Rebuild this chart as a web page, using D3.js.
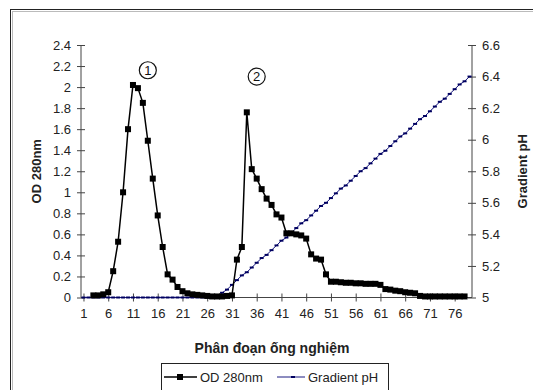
<!DOCTYPE html>
<html>
<head>
<meta charset="utf-8">
<script src="https://cdn.jsdelivr.net/npm/d3@7"></script>
<style>
  body { margin: 0; background: #fff; }
  svg { display: block; font-family: 'Liberation Sans', Arial, sans-serif; }
</style>
</head>
<body>
<figure id="chart" style="margin:0"></figure>
<script>
// fraction numbers 1..79
const fractions = d3.range(1, 80);
const xTickLabels = [1, 6, 11, 16, 21, 26, 31, 36, 41, 46, 51, 56, 61, 66, 71, 76];
const odTicks = [0, 0.2, 0.4, 0.6, 0.8, 1, 1.2, 1.4, 1.6, 1.8, 2, 2.2, 2.4];
const phTicks = [5, 5.2, 5.4, 5.6, 5.8, 6, 6.2, 6.4, 6.6];

// OD 280nm per fraction
const od280 = [
  null, null, 0.02, 0.02, 0.03, 0.05, 0.25, 0.53, 1.00, 1.60,
  2.02, 1.99, 1.85, 1.49, 1.13, 0.78, 0.48, 0.22, 0.17, 0.10,
  0.06, 0.04, 0.03, 0.025, 0.02, 0.015, 0.01, 0.01, 0.01, 0.015,
  0.02, 0.36, 0.48, 1.76, 1.22, 1.13, 1.03, 0.94, 0.88, 0.79,
  0.76, 0.61, 0.61, 0.60, 0.59, 0.56, 0.41, 0.37, 0.36, 0.22,
  0.15, 0.15, 0.145, 0.14, 0.14, 0.135, 0.135, 0.13, 0.13, 0.13,
  0.12, 0.08, 0.075, 0.065, 0.06, 0.05, 0.045, 0.04, 0.015, 0.01,
  0.01, 0.01, 0.01, 0.01, 0.01, 0.01, 0.01, 0.01, null
];

// pH gradient per fraction
const gradientPH = [
  5.00, 5.00, 5.00, 5.00, 5.00, 5.00, 5.00, 5.00, 5.00, 5.00,
  5.00, 5.00, 5.00, 5.00, 5.00, 5.00, 5.00, 5.00, 5.00, 5.00,
  5.00, 5.00, 5.00, 5.00, 5.00, 5.00, 5.00, 5.00, 5.03, 5.05,
  5.08, 5.11, 5.14, 5.16, 5.19, 5.22, 5.25, 5.27, 5.30, 5.33,
  5.36, 5.38, 5.41, 5.44, 5.47, 5.49, 5.52, 5.55, 5.58, 5.60,
  5.63, 5.66, 5.69, 5.71, 5.74, 5.77, 5.80, 5.82, 5.85, 5.88,
  5.91, 5.93, 5.96, 5.99, 6.02, 6.04, 6.07, 6.10, 6.13, 6.15,
  6.18, 6.21, 6.24, 6.26, 6.29, 6.32, 6.35, 6.37, 6.40
];

// circled peak numbers (fraction, OD level)
const peaks = [{ label: '1', at: 14, y: 2.16 }, { label: '2', at: 36, y: 2.1 }];

const W = 533, H = 390;
const plotLeft = 81, plotRight = 472, plotTop = 45, plotBottom = 297.5;
const axisColor = '#444';
const textColor = '#222';

const svg = d3.select('figure#chart').append('svg')
  .attr('width', W).attr('height', H);

// frame
svg.append('rect').attr('x', 10.5).attr('y', 9.5).attr('width', 600).attr('height', 500)
  .attr('fill', '#fff').attr('stroke', '#222');
svg.append('rect').attr('x', 12.5).attr('y', 11.5).attr('width', 600).attr('height', 500)
  .attr('fill', 'none').attr('stroke', '#bbb');

const x = d3.scalePoint().domain(fractions).range([plotLeft, plotRight]).padding(0.5);
const y = d3.scaleLinear().domain([0, 2.4]).range([plotBottom, plotTop]);
const yR = d3.scaleLinear().domain([5, 6.6]).range([plotBottom, plotTop]);

const fmt = d => String(+d.toFixed(1));

// Left axis
const gL = svg.append('g').attr('transform', `translate(${plotLeft},0)`)
  .call(d3.axisLeft(y).tickValues(odTicks).tickFormat(fmt).tickSize(4).tickPadding(6));
gL.selectAll('.tick line').attr('x1', -4).attr('x2', 4);

// Right axis
const gR = svg.append('g').attr('transform', `translate(${plotRight},0)`)
  .call(d3.axisRight(yR).tickValues(phTicks).tickFormat(fmt).tickSize(4).tickPadding(6));
gR.selectAll('.tick line').attr('x1', -4).attr('x2', 4);

// Bottom axis
const gB = svg.append('g').attr('transform', `translate(0,${plotBottom})`)
  .call(d3.axisBottom(x).tickValues(xTickLabels).tickSize(4).tickPadding(7));
gB.selectAll('.tick line').attr('y1', -4).attr('y2', 4);

[gL, gR, gB].forEach(g => {
  g.select('.domain').attr('stroke', axisColor);
  g.selectAll('.tick line').attr('stroke', axisColor);
  g.selectAll('text').attr('fill', textColor).style('font-size', '13px')
    .style('font-family', "'Liberation Sans', Arial, sans-serif");
});
gL.select('.domain').attr('d', `M0,${plotTop}V${plotBottom}`);
gR.select('.domain').attr('d', `M0,${plotTop}V${plotBottom}`);
gB.select('.domain').attr('d', `M${plotLeft},0H${plotRight}`);

// pH line
const phLine = d3.line().x((d, i) => x(fractions[i])).y(d => yR(d));
svg.append('path').datum(gradientPH).attr('d', phLine)
  .attr('fill', 'none').attr('stroke', '#1a1a80').attr('stroke-width', 1);
svg.append('g').selectAll('rect').data(gradientPH).enter().append('rect')
  .attr('x', (d, i) => x(fractions[i]) - 2).attr('y', d => yR(d) - 1)
  .attr('width', 4).attr('height', 2).attr('fill', '#000060');

// OD line
const odLine = d3.line().defined(d => d != null).x((d, i) => x(fractions[i])).y(d => y(d));
svg.append('path').datum(od280).attr('d', odLine)
  .attr('fill', 'none').attr('stroke', '#000').attr('stroke-width', 1.5);
svg.append('g').selectAll('rect').data(od280.map((v, i) => ({ v, f: fractions[i] })).filter(d => d.v != null))
  .enter().append('rect')
  .attr('x', d => x(d.f) - 3).attr('y', d => y(d.v) - 3)
  .attr('width', 6).attr('height', 6).attr('fill', '#000');

// peak markers
const pk = svg.append('g').selectAll('g').data(peaks).enter().append('g')
  .attr('transform', d => `translate(${x(d.at)},${y(d.y)})`);
pk.append('circle').attr('r', 8.5).attr('fill', 'none').attr('stroke', '#111').attr('stroke-width', 1.2);
pk.append('text').text(d => d.label).attr('text-anchor', 'middle').attr('dy', '0.36em')
  .style('font-size', '13px').attr('fill', '#111');

// axis titles
svg.append('text').text('OD 280nm')
  .attr('transform', `translate(41,${(plotTop + plotBottom) / 2}) rotate(-90)`)
  .attr('text-anchor', 'middle').style('font-size', '13px').style('font-weight', 'bold').attr('fill', textColor);
svg.append('text').text('Gradient pH')
  .attr('transform', `translate(527,${(plotTop + plotBottom) / 2}) rotate(-90)`)
  .attr('text-anchor', 'middle').style('font-size', '13px').style('font-weight', 'bold').attr('fill', textColor);
svg.append('text').text('Phân đoạn ống nghiệm')
  .attr('x', 272).attr('y', 353)
  .attr('text-anchor', 'middle').style('font-size', '14px').style('font-weight', 'bold').attr('fill', textColor);

// legend
const lg = svg.append('g');
lg.append('rect').attr('x', 161.5).attr('y', 363.5).attr('width', 227).attr('height', 40)
  .attr('fill', '#fff').attr('stroke', '#222');
lg.append('line').attr('x1', 164).attr('x2', 197).attr('y1', 377).attr('y2', 377)
  .attr('stroke', '#000').attr('stroke-width', 1.5);
lg.append('rect').attr('x', 177).attr('y', 374).attr('width', 6).attr('height', 6).attr('fill', '#000');
lg.append('text').text('OD 280nm').attr('x', 200).attr('y', 381.5)
  .style('font-size', '13px').attr('fill', textColor);
lg.append('line').attr('x1', 277).attr('x2', 305).attr('y1', 377).attr('y2', 377)
  .attr('stroke', '#1a1a80').attr('stroke-width', 1);
lg.append('rect').attr('x', 291).attr('y', 376).attr('width', 4).attr('height', 2).attr('fill', '#000060');
lg.append('text').text('Gradient pH').attr('x', 308).attr('y', 381.5)
  .style('font-size', '13px').attr('fill', textColor);
</script>
</body>
</html>
